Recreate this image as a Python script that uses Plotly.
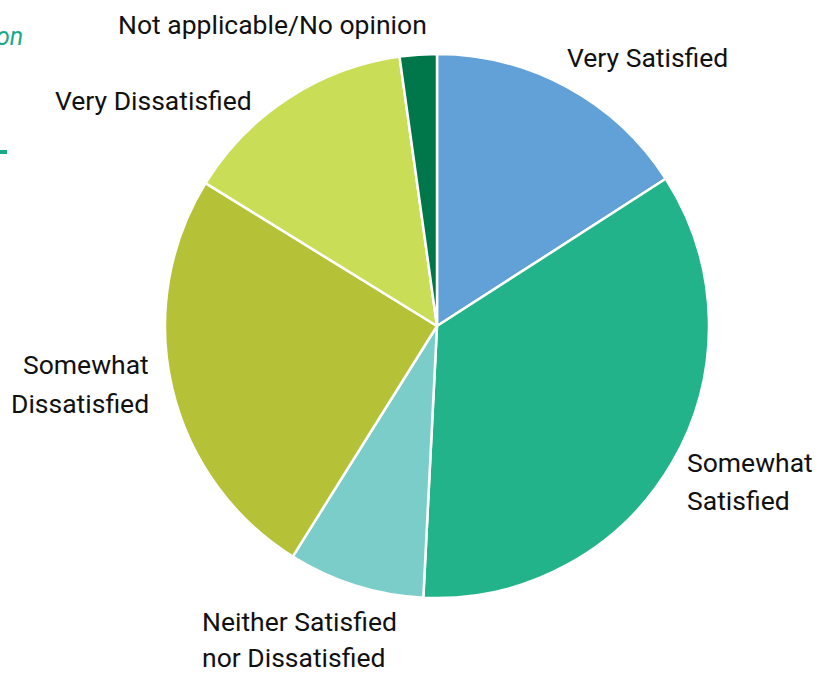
import plotly.graph_objects as go

categories = ["Very Satisfied", "Somewhat Satisfied", "Neither Satisfied nor Dissatisfied",
              "Somewhat Dissatisfied", "Very Dissatisfied", "Not applicable/No opinion"]
values = [15.9, 34.9, 8.1, 24.9, 14.0, 2.2]
colors = ["#62a1d7", "#22b38b", "#7bcdc9", "#b5c136", "#cadd56", "#00774a"]

label_lines = [["Very Satisfied"], ["Somewhat", "Satisfied"], ["Neither Satisfied", "nor Dissatisfied"],
               ["Somewhat", "Dissatisfied"], ["Very Dissatisfied"], ["Not applicable/No opinion"]]
# pixel anchors of the first line (x, y, xanchor, line gap)
label_pos = [(565, 57, "left", 38), (685, 462, "left", 38), (200, 621, "left", 36),
             (151, 364, "right", 39), (53, 100, "left", 38), (116, 25, "left", 38)]

W, H = 827, 673
cx, cy, r = 437, 326, 272

def px(x):
    return x / W

def py(y):
    return 1 - y / H

fig = go.Figure(go.Pie(
    labels=categories, values=values, sort=False, direction="clockwise", rotation=0,
    marker=dict(colors=colors, line=dict(color="white", width=2.5)),
    textinfo="none", hoverinfo="label+percent", showlegend=False,
    domain=dict(x=[(cx - r) / W, (cx + r) / W], y=[1 - (cy + r) / H, 1 - (cy - r) / H]),
))

font = "Roboto"
for lines, (x, y, xa, gap) in zip(label_lines, label_pos):
    for i, t in enumerate(lines):
        fig.add_annotation(text=t, x=px(x), y=py(y + i * gap), xref="paper", yref="paper",
                           xanchor=xa, yanchor="middle", align=xa, showarrow=False,
                           font=dict(family=font, size=26.5, color="#111111"))

fig.add_annotation(text="<i>on</i>", x=px(-6), y=py(36), xref="paper", yref="paper",
                   xanchor="left", yanchor="middle", showarrow=False,
                   font=dict(family=font, size=25, color="#1aa88a"))
fig.add_shape(type="line", x0=px(0), x1=px(7), y0=py(152), y1=py(152),
              xref="paper", yref="paper", line=dict(color="#1aa88a", width=4))

fig.update_layout(width=W, height=H, margin=dict(l=0, r=0, t=0, b=0),
                  paper_bgcolor="white", plot_bgcolor="white")
fig.write_html("out.html", config={"displayModeBar": False},
               post_script="document.body.style.margin='0';document.body.style.overflow='hidden';")
